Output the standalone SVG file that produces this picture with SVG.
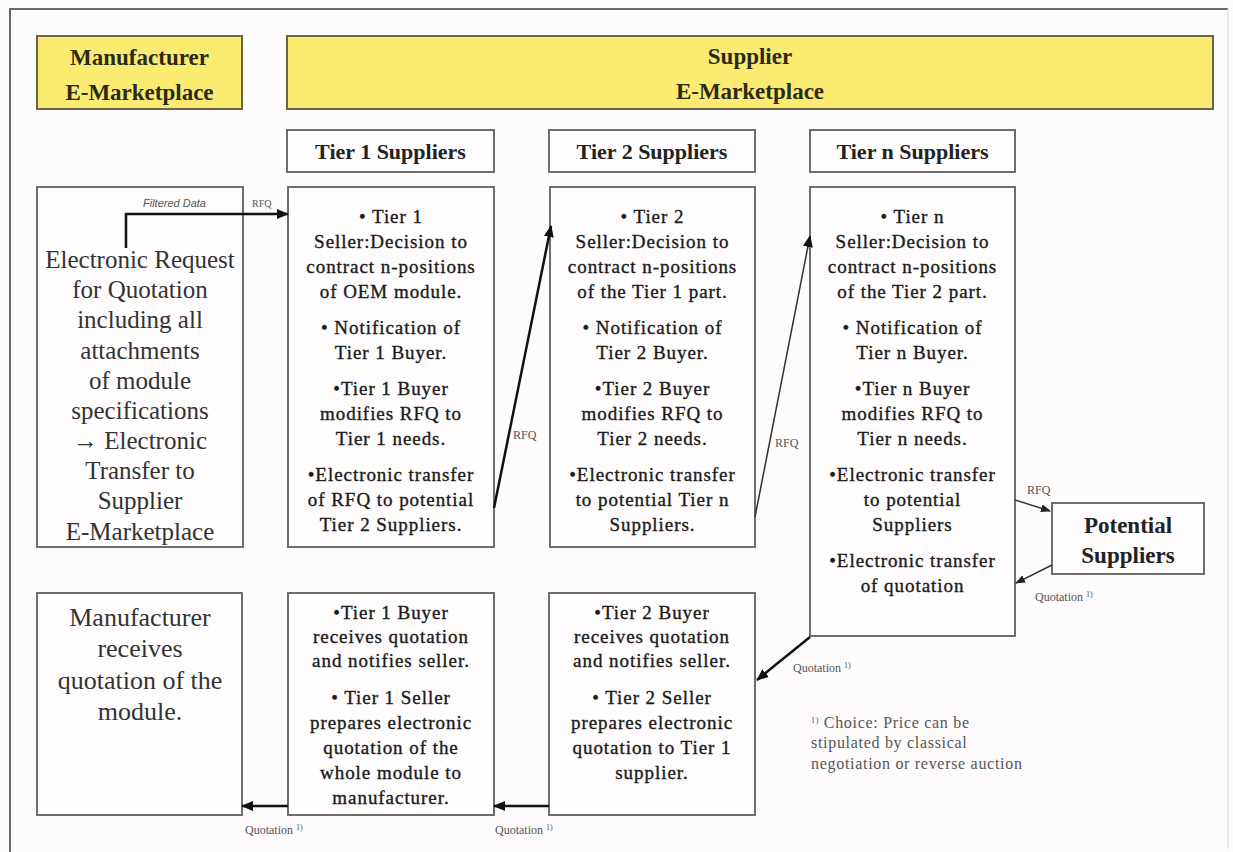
<svg xmlns="http://www.w3.org/2000/svg" width="1233" height="852" viewBox="0 0 1233 852">
  <style>
    .box { fill: #fefcfc; stroke: #6e6e6e; stroke-width: 2; }
    .mkt { fill: #fbeb70; stroke: #6b6446; stroke-width: 2; }
    .hdr { font-family: "Liberation Serif", serif; font-weight: bold; font-size: 22px; fill: #222; text-anchor: middle; }
    .mkt-t { font-family: "Liberation Serif", serif; font-weight: bold; font-size: 23px; fill: #2a2a1a; text-anchor: middle; }
    .big { font-family: "Liberation Serif", serif; font-size: 25px; fill: #333; text-anchor: middle; }
    .body { font-family: "Liberation Serif", serif; font-size: 19px; letter-spacing: 0.95px; fill: #1a1a1a; stroke: #1a1a1a; stroke-width: 0.35px; text-anchor: middle; }
    .lbl { font-family: "Liberation Serif", serif; font-size: 12px; fill: #555; }
    .it { font-family: "Liberation Sans", sans-serif; font-style: italic; font-size: 11px; fill: #555; }
    .foot { font-family: "Liberation Serif", serif; font-size: 16px; letter-spacing: 0.7px; fill: #555; }
    .sup { font-size: 8px; }
    .con { fill: none; stroke: #111; stroke-width: 2.5; }
    .con-thin { fill: none; stroke: #333; stroke-width: 1.5; }
  </style>
  <defs>
    <marker id="head" viewBox="0 0 12 10" refX="11" refY="5" markerWidth="12" markerHeight="10" markerUnits="userSpaceOnUse" orient="auto">
      <path d="M0,0 L12,5 L0,10 z" fill="#111"/>
    </marker>
    <marker id="head-s" viewBox="0 0 10 8" refX="9" refY="4" markerWidth="10" markerHeight="8" markerUnits="userSpaceOnUse" orient="auto">
      <path d="M0,0 L10,4 L0,8 z" fill="#222"/>
    </marker>
  </defs>

  <!-- page background and frame -->
  <rect x="0" y="0" width="1233" height="852" fill="#fdfbfb"/>
  <path d="M1228,9 H10 V852" fill="none" stroke="#6a6a6a" stroke-width="2"/>
  <path d="M1228,9 V849" fill="none" stroke="#e4e2e2" stroke-width="1.5"/>

  <!-- marketplace bands -->
  <g id="manufacturer-marketplace">
    <rect class="mkt" x="37" y="36" width="205" height="73"/>
    <text class="mkt-t" x="139.5" y="65">Manufacturer</text>
    <text class="mkt-t" x="139.5" y="100">E-Marketplace</text>
  </g>
  <g id="supplier-marketplace">
    <rect class="mkt" x="287" y="36" width="926" height="73"/>
    <text class="mkt-t" x="750" y="64">Supplier</text>
    <text class="mkt-t" x="750" y="99">E-Marketplace</text>
  </g>

  <!-- tier column headers -->
  <g id="tier1-header">
    <rect class="box" x="287" y="130" width="207" height="42"/>
    <text class="hdr" x="390.5" y="159">Tier 1 Suppliers</text>
  </g>
  <g id="tier2-header">
    <rect class="box" x="549" y="130" width="206" height="42"/>
    <text class="hdr" x="652" y="159">Tier 2 Suppliers</text>
  </g>
  <g id="tiern-header">
    <rect class="box" x="810" y="130" width="205" height="42"/>
    <text class="hdr" x="912.5" y="159">Tier n Suppliers</text>
  </g>

  <!-- request row -->
  <g id="rfq-manufacturer">
    <rect class="box" x="37" y="187" width="206" height="360"/>
    <text class="big" x="140" y="268">Electronic Request</text>
    <text class="big" x="140" y="298">for Quotation</text>
    <text class="big" x="140" y="328">including all</text>
    <text class="big" x="140" y="359">attachments</text>
    <text class="big" x="140" y="389">of module</text>
    <text class="big" x="140" y="419">specifications</text>
    <text class="big" x="140" y="449">→ Electronic</text>
    <text class="big" x="140" y="479">Transfer to</text>
    <text class="big" x="140" y="509">Supplier</text>
    <text class="big" x="140" y="540">E-Marketplace</text>
  </g>

  <g id="tier1-request">
    <rect class="box" x="288" y="187" width="206" height="360"/>
    <text class="body" x="391" y="223">• Tier 1</text>
    <text class="body" x="391" y="248">Seller:Decision to</text>
    <text class="body" x="391" y="273">contract n-positions</text>
    <text class="body" x="391" y="298">of OEM module.</text>
    <text class="body" x="391" y="334">• Notification of</text>
    <text class="body" x="391" y="359">Tier 1 Buyer.</text>
    <text class="body" x="391" y="395">•Tier 1 Buyer</text>
    <text class="body" x="391" y="420">modifies RFQ to</text>
    <text class="body" x="391" y="445">Tier 1 needs.</text>
    <text class="body" x="391" y="481">•Electronic transfer</text>
    <text class="body" x="391" y="506">of RFQ to potential</text>
    <text class="body" x="391" y="531">Tier 2 Suppliers.</text>
  </g>

  <g id="tier2-request">
    <rect class="box" x="550" y="187" width="205" height="360"/>
    <text class="body" x="652.5" y="223">• Tier 2</text>
    <text class="body" x="652.5" y="248">Seller:Decision to</text>
    <text class="body" x="652.5" y="273">contract n-positions</text>
    <text class="body" x="652.5" y="298">of the Tier 1 part.</text>
    <text class="body" x="652.5" y="334">• Notification of</text>
    <text class="body" x="652.5" y="359">Tier 2 Buyer.</text>
    <text class="body" x="652.5" y="395">•Tier 2 Buyer</text>
    <text class="body" x="652.5" y="420">modifies RFQ to</text>
    <text class="body" x="652.5" y="445">Tier 2 needs.</text>
    <text class="body" x="652.5" y="481">•Electronic transfer</text>
    <text class="body" x="652.5" y="506">to potential Tier n</text>
    <text class="body" x="652.5" y="531">Suppliers.</text>
  </g>

  <g id="tiern-request">
    <rect class="box" x="810" y="187" width="205" height="449"/>
    <text class="body" x="912.5" y="223">• Tier n</text>
    <text class="body" x="912.5" y="248">Seller:Decision to</text>
    <text class="body" x="912.5" y="273">contract n-positions</text>
    <text class="body" x="912.5" y="298">of the Tier 2 part.</text>
    <text class="body" x="912.5" y="334">• Notification of</text>
    <text class="body" x="912.5" y="359">Tier n Buyer.</text>
    <text class="body" x="912.5" y="395">•Tier n Buyer</text>
    <text class="body" x="912.5" y="420">modifies RFQ to</text>
    <text class="body" x="912.5" y="445">Tier n needs.</text>
    <text class="body" x="912.5" y="481">•Electronic transfer</text>
    <text class="body" x="912.5" y="506">to potential</text>
    <text class="body" x="912.5" y="531">Suppliers</text>
    <text class="body" x="912.5" y="567">•Electronic transfer</text>
    <text class="body" x="912.5" y="592">of quotation</text>
  </g>

  <g id="potential-suppliers">
    <rect class="box" x="1052" y="503" width="152" height="71"/>
    <text class="hdr" x="1128" y="533" style="font-size:23px">Potential</text>
    <text class="hdr" x="1128" y="563" style="font-size:23px">Suppliers</text>
  </g>

  <!-- quotation row -->
  <g id="manufacturer-receives">
    <rect class="box" x="37" y="593" width="205" height="222"/>
    <text class="big" x="140" y="626" style="font-size:26px">Manufacturer</text>
    <text class="big" x="140" y="657" style="font-size:26px">receives</text>
    <text class="big" x="140" y="689" style="font-size:26px">quotation of the</text>
    <text class="big" x="140" y="720" style="font-size:26px">module.</text>
  </g>

  <g id="tier1-quotation">
    <rect class="box" x="288" y="593" width="206" height="222"/>
    <text class="body" x="391" y="619">•Tier 1 Buyer</text>
    <text class="body" x="391" y="643">receives quotation</text>
    <text class="body" x="391" y="667">and notifies seller.</text>
    <text class="body" x="391" y="704">• Tier 1 Seller</text>
    <text class="body" x="391" y="729">prepares electronic</text>
    <text class="body" x="391" y="754">quotation of the</text>
    <text class="body" x="391" y="779">whole module to</text>
    <text class="body" x="391" y="804">manufacturer.</text>
  </g>

  <g id="tier2-quotation">
    <rect class="box" x="549" y="593" width="206" height="222"/>
    <text class="body" x="652" y="619">•Tier 2 Buyer</text>
    <text class="body" x="652" y="643">receives quotation</text>
    <text class="body" x="652" y="667">and notifies seller.</text>
    <text class="body" x="652" y="704">• Tier 2 Seller</text>
    <text class="body" x="652" y="729">prepares electronic</text>
    <text class="body" x="652" y="754">quotation to Tier 1</text>
    <text class="body" x="652" y="779">supplier.</text>
  </g>

  <!-- footnote -->
  <g id="footnote">
    <text class="foot" x="811" y="728"><tspan class="sup" dy="-5">1)</tspan><tspan dy="5"> Choice: Price can be</tspan></text>
    <text class="foot" x="811" y="748">stipulated by classical</text>
    <text class="foot" x="811" y="769">negotiation or reverse auction</text>
  </g>

  <!-- connectors -->
  <g id="connectors">
    <path class="con" d="M126,248 V214 H288" marker-end="url(#head)"/>
    <path class="con" d="M494,508 L551,226" marker-end="url(#head)"/>
    <path class="con-thin" d="M755,517 L810,236" marker-end="url(#head)"/>
    <path class="con-thin" d="M1015,500 L1050,511" marker-end="url(#head-s)"/>
    <path class="con-thin" d="M1052,565 L1016,583" marker-end="url(#head-s)"/>
    <path class="con" d="M810,637 L757,680" marker-end="url(#head)"/>
    <path class="con" d="M549,806 H494" marker-end="url(#head)"/>
    <path class="con" d="M288,806 H242" marker-end="url(#head)"/>

    <text class="it" x="143" y="207">Filtered Data</text>
    <text class="lbl" x="252" y="207" style="font-size:10px">RFQ</text>
    <text class="lbl" x="513" y="439">RFQ</text>
    <text class="lbl" x="775" y="447">RFQ</text>
    <text class="lbl" x="1027" y="494">RFQ</text>
    <text class="lbl" x="1035" y="601">Quotation <tspan class="sup" dy="-4">1)</tspan></text>
    <text class="lbl" x="793" y="672">Quotation <tspan class="sup" dy="-4">1)</tspan></text>
    <text class="lbl" x="495" y="834">Quotation <tspan class="sup" dy="-4">1)</tspan></text>
    <text class="lbl" x="245" y="834">Quotation <tspan class="sup" dy="-4">1)</tspan></text>
  </g>
</svg>
